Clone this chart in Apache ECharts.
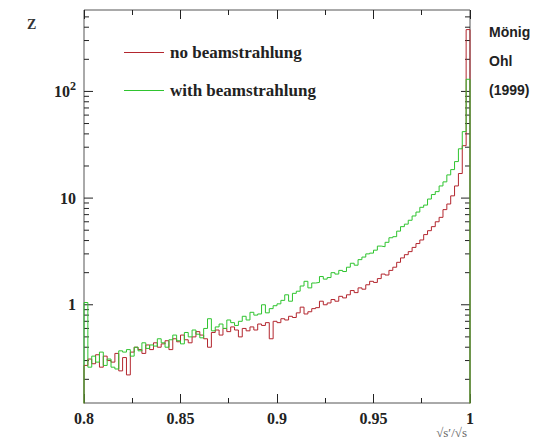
<!DOCTYPE html>
<html>
<head>
<meta charset="utf-8">
<script src="https://cdn.jsdelivr.net/npm/echarts@6/dist/echarts.min.js"></script>
<style>html,body{margin:0;padding:0;background:#fff}#c{width:549px;height:439px}</style>
</head>
<body>
<div id="c"></div>
<script>
// Histogram binning: 100 bins from 0.8 to 1.0
const binLow = 0.8;
const binWidth = 0.002;
const seriesNames = ['no beamstrahlung', 'with beamstrahlung'];
const noBeam = [
  0.27, 0.31, 0.28, 0.34, 0.26, 0.33, 0.30, 0.29, 0.35, 0.24,
  0.32, 0.22, 0.36, 0.40, 0.38, 0.35, 0.42, 0.38, 0.44, 0.40,
  0.43, 0.46, 0.38, 0.48, 0.45, 0.52, 0.47, 0.44, 0.50, 0.56,
  0.52, 0.48, 0.40, 0.55, 0.58, 0.52, 0.60, 0.56, 0.62, 0.58,
  0.50, 0.60, 0.57, 0.62, 0.58, 0.66, 0.64, 0.68, 0.48, 0.70,
  0.68, 0.74, 0.72, 0.78, 0.76, 0.84, 0.95, 0.82, 0.86, 0.92,
  0.94, 1.08, 1.00, 1.04, 1.12, 1.08, 1.20, 1.16, 1.24, 1.36,
  1.30, 1.44, 1.40, 1.54, 1.66, 1.62, 1.76, 1.94, 1.90, 2.10,
  2.25, 2.50, 2.75, 2.95, 3.15, 3.45, 3.75, 4.05, 4.55, 4.95,
  5.40, 6.00, 6.60, 7.80, 8.80, 10.5, 13.0, 17.0, 31.0, 380
];
const withBeam = [
  1.05, 0.26, 0.33, 0.29, 0.36, 0.27, 0.31, 0.26, 0.25, 0.37,
  0.36, 0.38, 0.33, 0.40, 0.37, 0.44, 0.39, 0.42, 0.41, 0.48,
  0.44, 0.40, 0.47, 0.52, 0.46, 0.43, 0.55, 0.50, 0.58, 0.53,
  0.49, 0.60, 0.74, 0.57, 0.62, 0.66, 0.60, 0.72, 0.68, 0.64,
  0.70, 0.78, 0.72, 0.85, 0.80, 0.82, 1.00, 0.84, 0.92, 0.98,
  1.02, 1.10, 1.24, 1.08, 1.28, 1.34, 1.50, 1.66, 1.44, 1.60,
  1.62, 1.84, 1.74, 1.80, 2.00, 1.94, 2.10, 2.05, 2.25, 2.45,
  2.35, 2.65, 2.80, 3.00, 3.05, 3.25, 3.55, 3.50, 3.85, 4.25,
  4.35, 4.90, 5.40, 5.70, 6.20, 6.80, 7.40, 8.20, 8.60, 9.80,
  10.8, 11.5, 13.0, 14.2, 16.5, 18.5, 22.0, 29.0, 42.0, 130
];
const yDecades = [1, 10, 100];
const yMinorTicks = [0.2,0.3,0.4,0.5,0.6,0.7,0.8,0.9, 2,3,4,5,6,7,8,9, 20,30,40,50,60,70,80,90, 200,300,400,500];
const yMin = 0.12, yMax = 580;
const authorLines = ['Mönig', 'Ohl', '(1999)'];

function histPoints(vals) {
  const floor = 0.01;
  const pts = [[binLow, floor]];
  vals.forEach((v, i) => {
    const a = binLow + i * binWidth;
    pts.push([a, v], [a + binWidth, v]);
  });
  pts.push([binLow + vals.length * binWidth, floor]);
  return pts;
}

const serif = "'Liberation Serif', 'DejaVu Serif', serif";
const chart = echarts.init(document.getElementById('c'), null, {renderer: 'svg'});

const tickData = yDecades.map(v => [binLow, v, 1]).concat(yMinorTicks.map(v => [binLow, v, 0]));

chart.setOption({
  animation: false,
  grid: {left: 84, right: 79, top: 10, bottom: 34, show: true, borderColor: '#555', borderWidth: 1, backgroundColor: 'transparent'},
  legend: {
    data: seriesNames,
    orient: 'vertical',
    left: 119, top: 39,
    icon: 'rect',
    itemWidth: 40, itemHeight: 1.2, itemGap: 21,
    textStyle: {fontFamily: serif, fontWeight: 'bold', fontSize: 17, color: '#222', padding: [0, 0, 0, 1]}
  },
  xAxis: [{
    type: 'value', min: 0.8, max: 1, interval: 0.05, position: 'bottom',
    axisLine: {show: false},
    axisTick: {show: true, inside: true, length: 9, lineStyle: {color: '#222'}},
    minorTick: {show: true, splitNumber: 2, length: 5, lineStyle: {color: '#222'}},
    splitLine: {show: false},
    axisLabel: {margin: 7, fontFamily: serif, fontWeight: 'bold', fontSize: 16, color: '#222',
      formatter: v => String(+v.toFixed(2))},
    name: '√s′/√s', nameLocation: 'end', nameGap: 0,
    nameTextStyle: {fontFamily: serif, fontSize: 13, color: '#666', align: 'right', verticalAlign: 'top', padding: [23, 3, 0, 0]}
  }, {
    type: 'value', min: 0.8, max: 1, interval: 0.05, position: 'top',
    axisLine: {show: false},
    axisTick: {show: true, inside: true, length: 9, lineStyle: {color: '#222'}},
    minorTick: {show: true, splitNumber: 2, length: 5, lineStyle: {color: '#222'}},
    splitLine: {show: false},
    axisLabel: {show: false}
  }],
  yAxis: [{
    type: 'log', logBase: 10, min: yMin, max: yMax,
    axisLine: {show: false},
    axisTick: {show: false},
    minorTick: {show: false},
    splitLine: {show: false},
    name: 'Z', nameLocation: 'end', nameGap: 0,
    nameTextStyle: {fontFamily: serif, fontWeight: 'bold', fontSize: 14, color: '#333', align: 'left', verticalAlign: 'top', padding: [7, 0, 0, -57]},
    axisLabel: {
      margin: 8, fontFamily: serif, fontWeight: 'bold', fontSize: 16, color: '#222',
      formatter: v => {
        const r = Math.round(Math.log10(v));
        if (Math.abs(Math.log10(v) - r) > 1e-6) return '';
        if (r === 0) return '1';
        if (r === 1) return '10';
        return '10{sup|' + r + '}';
      },
      rich: {sup: {fontFamily: serif, fontWeight: 'bold', fontSize: 12, color: '#222', verticalAlign: 'bottom', padding: [0, 0, 10, 0]}}
    }
  }],
  series: [{
    name: seriesNames[0], type: 'line', data: histPoints(noBeam),
    symbol: 'none', showSymbol: false, clip: true,
    lineStyle: {color: '#b3262e', width: 1}, itemStyle: {color: '#b3262e'}
  }, {
    name: seriesNames[1], type: 'line', data: histPoints(withBeam),
    symbol: 'none', showSymbol: false, clip: true,
    lineStyle: {color: '#2fc42f', width: 1}, itemStyle: {color: '#2fc42f'}
  }, {
    name: 'yticks', type: 'custom', data: tickData, encode: {x: 0, y: 1}, silent: true,
    renderItem: (params, api) => {
      const p = api.coord([0.8, api.value(1)]);
      const q = api.coord([1.0, api.value(1)]);
      const len = api.value(2) ? 9 : 5;
      const st = {stroke: '#222', lineWidth: 1};
      return {type: 'group', children: [
        {type: 'line', shape: {x1: p[0], y1: p[1], x2: p[0] + len, y2: p[1]}, style: st},
        {type: 'line', shape: {x1: q[0], y1: q[1], x2: q[0] - len, y2: q[1]}, style: st}
      ]};
    }
  }],
  graphic: authorLines.map((t, i) => ({
    type: 'text', left: 489, top: 25 + i * 29,
    style: {text: t, font: "bold 14px 'Liberation Sans', Arial, sans-serif", fill: '#222'}
  }))
});
</script>
</body>
</html>
